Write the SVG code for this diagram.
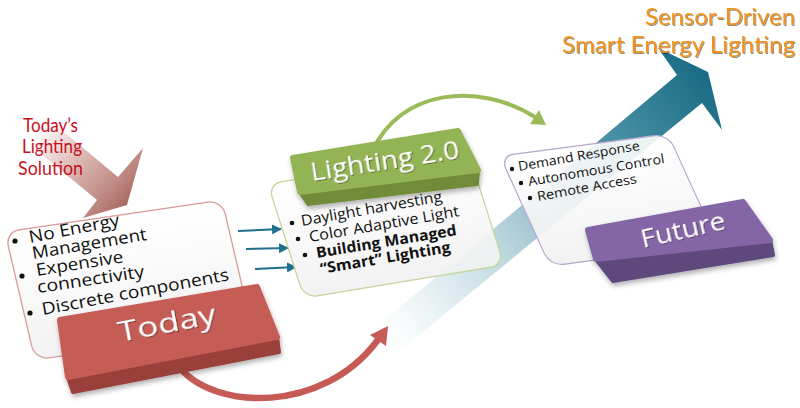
<svg xmlns="http://www.w3.org/2000/svg" width="800" height="408" viewBox="0 0 800 408">
<defs>
<linearGradient id="teal" gradientUnits="userSpaceOnUse" x1="385" y1="345" x2="712" y2="88">
<stop offset="0" stop-color="#e3eff2" stop-opacity="0"/>
<stop offset="0.2" stop-color="#d3e6eb" stop-opacity="0.75"/>
<stop offset="0.45" stop-color="#a6c9d3"/>
<stop offset="0.7" stop-color="#4f95a9"/>
<stop offset="1" stop-color="#1b6d85"/>
</linearGradient>
<linearGradient id="pink" gradientUnits="userSpaceOnUse" x1="45" y1="120" x2="128" y2="200">
<stop offset="0" stop-color="#d3a29d" stop-opacity="0"/>
<stop offset="0.45" stop-color="#cc9a94" stop-opacity="0.7"/>
<stop offset="1" stop-color="#ad6c65"/>
</linearGradient>
<linearGradient id="boxfill" x1="0" y1="0" x2="0" y2="1">
<stop offset="0" stop-color="#ffffff"/>
<stop offset="1" stop-color="#f1f1f1"/>
</linearGradient>
<filter id="sh" x="-10%" y="-10%" width="130%" height="140%">
<feDropShadow dx="1" dy="3" stdDeviation="2.5" flood-color="#000" flood-opacity="0.3"/>
</filter>
<filter id="tsh" x="-10%" y="-20%" width="130%" height="150%">
<feDropShadow dx="1" dy="1" stdDeviation="0.6" flood-color="#000" flood-opacity="0.45"/>
</filter>
<marker id="bl" viewBox="0 0 10 10" refX="9" refY="5" markerWidth="5" markerHeight="5" orient="auto">
<path d="M0,0 L10,5 L0,10 z" fill="#1f6f8e"/>
</marker>
<style>
.box{fill:url(#boxfill);fill-opacity:0.9;stroke-width:1.3}
.bt{font-family:"Open Sans","DejaVu Sans",sans-serif;fill:#111}
.btn{font-family:"Open Sans","DejaVu Sans",sans-serif;fill:#fff;filter:url(#tsh)}
.title{font-family:Lato,"Liberation Sans",sans-serif}
.blue{stroke:#1f6f8e;stroke-width:2;fill:none;marker-end:url(#bl)}
</style>
</defs>
<rect width="800" height="408" fill="#ffffff"/>

<g id="connectors">
<polygon id="growth-arrow" points="368,334 677,75 658,48 708,72 722,130 702,103 397,353" fill="url(#teal)"/>
<polygon id="todays-arrow" points="40,112 118,177 143,148 127,205 83,218 97,200 40,153" fill="url(#pink)"/>
<path d="M180,368 C215,410 322,414 377,341" fill="none" stroke="#c65a55" stroke-width="6.5" stroke-linecap="round"/>
<polygon points="388,326 370,335 386,346" fill="#c65a55"/>
<path d="M372,152 C400,88 480,82 535,117" fill="none" stroke="#9bbb59" stroke-width="4"/>
<polygon points="546,125 530,124 539,110" fill="#9bbb59"/>
<line class="blue" x1="238" y1="231" x2="281" y2="229"/>
<line class="blue" x1="246" y1="249" x2="288" y2="248"/>
<line class="blue" x1="255" y1="269" x2="296" y2="267"/>
</g>

<g id="today-box">
<rect class="box" x="0" y="0" width="217" height="128" rx="14" transform="matrix(1,-0.1475,0.234,1,5,232)" stroke="#d99a98"/>
<circle cx="15" cy="241" r="2.6" fill="#111"/>
<circle cx="22" cy="276" r="2.6" fill="#111"/>
<circle cx="30" cy="313" r="2.6" fill="#111"/>
<text class="bt" font-size="17" textLength="92" lengthAdjust="spacingAndGlyphs" transform="translate(30,243) rotate(-11)">No Energy</text>
<text class="bt" font-size="17" textLength="116" lengthAdjust="spacingAndGlyphs" transform="translate(33,259) rotate(-9.5)">Management</text>
<text class="bt" font-size="17" textLength="88" lengthAdjust="spacingAndGlyphs" transform="translate(37,276) rotate(-9)">Expensive</text>
<text class="bt" font-size="17" textLength="108" lengthAdjust="spacingAndGlyphs" transform="translate(38,293) rotate(-8.5)">connectivity</text>
<text class="bt" font-size="17" textLength="190" lengthAdjust="spacingAndGlyphs" transform="translate(43,315) rotate(-10.6)">Discrete components</text>
</g>

<g id="today-button" filter="url(#sh)">
<polygon points="68,377 277,337 279,352 73,392" fill="#9a3f3b" stroke="#9a3f3b" stroke-width="4" stroke-linejoin="round"/>
<polygon points="60,320 257,287 277,337 68,377" fill="#c65b56" stroke="#c65b56" stroke-width="6" stroke-linejoin="round"/>
<text class="btn" font-size="28" textLength="99" lengthAdjust="spacingAndGlyphs" transform="translate(120,342) rotate(-11)">Today</text>
</g>

<g id="lighting-box">
<rect class="box" x="0" y="0" width="200" height="114" rx="13" transform="matrix(1,-0.165,0.316,1,268,184)" stroke="#c3d69b"/>
<circle cx="292" cy="223" r="2.3" fill="#111"/>
<circle cx="298" cy="239" r="2.3" fill="#111"/>
<circle cx="305" cy="255" r="2.3" fill="#111"/>
<text class="bt" font-size="15" textLength="143" lengthAdjust="spacingAndGlyphs" transform="translate(302,226) rotate(-10)">Daylight harvesting</text>
<text class="bt" font-size="15" textLength="152" lengthAdjust="spacingAndGlyphs" transform="translate(310,242) rotate(-9.8)">Color Adaptive Light</text>
<text class="bt" font-size="15" font-weight="bold" textLength="142" lengthAdjust="spacingAndGlyphs" transform="translate(317,258) rotate(-9.3)">Building Managed</text>
<text class="bt" font-size="15" font-weight="bold" textLength="132" lengthAdjust="spacingAndGlyphs" transform="translate(321,274) rotate(-9.6)">“Smart” Lighting</text>
</g>

<g id="lighting-button" filter="url(#sh)">
<polygon points="300,192 478,170 477,184 308,204" fill="#6f8c3a" stroke="#6f8c3a" stroke-width="4" stroke-linejoin="round"/>
<polygon points="293,158 458,131 478,170 300,192" fill="#93b454" stroke="#93b454" stroke-width="6" stroke-linejoin="round"/>
<text class="btn" font-size="26" textLength="150" lengthAdjust="spacingAndGlyphs" transform="translate(312,181) rotate(-8.8)">Lighting 2.0</text>
</g>

<g id="future-box">
<rect class="box" x="0" y="0" width="168" height="110" rx="13" transform="matrix(1,-0.131,0.4545,1,500,156)" stroke="#b9a8cf"/>
<circle cx="512" cy="169" r="2.2" fill="#111"/>
<circle cx="521" cy="183" r="2.2" fill="#111"/>
<circle cx="530" cy="198" r="2.2" fill="#111"/>
<text class="bt" font-size="13" textLength="123" lengthAdjust="spacingAndGlyphs" transform="translate(519,171) rotate(-9.9)">Demand Response</text>
<text class="bt" font-size="13" textLength="138" lengthAdjust="spacingAndGlyphs" transform="translate(529,186) rotate(-9.6)">Autonomous Control</text>
<text class="bt" font-size="13" textLength="101" lengthAdjust="spacingAndGlyphs" transform="translate(538,201) rotate(-10.3)">Remote Access</text>
</g>

<g id="future-button" filter="url(#sh)">
<polygon points="595,258 770,240 773,255 613,281" fill="#5f4a7c" stroke="#5f4a7c" stroke-width="4" stroke-linejoin="round"/>
<polygon points="588,230 743,202 770,240 596,259" fill="#8466a6" stroke="#8466a6" stroke-width="6" stroke-linejoin="round"/>
<text class="btn" font-size="25" textLength="86" lengthAdjust="spacingAndGlyphs" transform="translate(643,248) rotate(-13)">Future</text>
</g>

<g id="todays-label" class="title" fill="#c8101e" font-size="18.5" text-anchor="middle">
<text x="50.5" y="132" textLength="55" lengthAdjust="spacingAndGlyphs">Today’s</text>
<text x="52" y="153" textLength="60" lengthAdjust="spacingAndGlyphs">Lighting</text>
<text x="50.5" y="175" textLength="65" lengthAdjust="spacingAndGlyphs">Solution</text>
</g>

<g id="sensor-label" class="title" font-size="24" text-anchor="end" fill="#f0921c" filter="url(#tsh)">
<text x="795" y="25" textLength="150" lengthAdjust="spacingAndGlyphs">Sensor-Driven</text>
<text x="795" y="53" textLength="233" lengthAdjust="spacingAndGlyphs">Smart Energy Lighting</text>
</g>
</svg>
